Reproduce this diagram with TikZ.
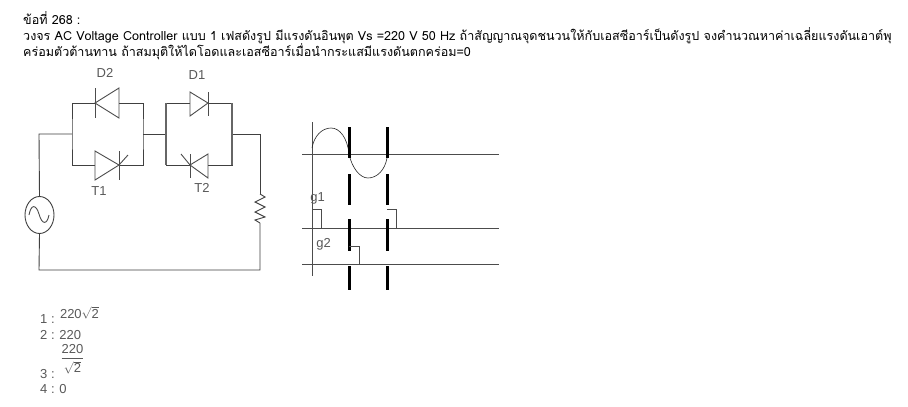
\documentclass[tikz,border=0pt]{standalone}
\usepackage{fontspec}
\usetikzlibrary{shapes.geometric}
\newfontfamily\thaifont[Script=Thai]{Loma}
\setmainfont{Liberation Sans}
\tikzset{
  wire/.style={draw=black!75,line width=0.9pt},
  heavywire/.style={draw=black!60,line width=1.3pt},
  part/.style={draw=black!70,line width=0.9pt},
  axisline/.style={draw=black!70,line width=0.9pt},
  wave/.style={draw=black!85,line width=0.6pt},
  gatebar/.style={draw=black,line width=3pt},
  qtext/.style={anchor=base west,inner sep=0pt,font=\thaifont\fontsize{12.55}{14}\selectfont,text=black},
  lbl/.style={anchor=center,inner sep=0pt,font=\fontsize{13}{14}\selectfont,text=black!65},
  opt/.style={anchor=base west,inner sep=0pt,font=\fontsize{13}{14}\selectfont,text=black!65}
}
\begin{document}
\begin{tikzpicture}[x=1pt,y=-1pt]
\useasboundingbox (0,0) rectangle (908,407);
\fill[white] (0,0) rectangle (908,407);
% question
\node[qtext] (q1) at (23,24) {ข้อที่ 268 :};
\node[qtext] (q2) at (23,40) {วงจร AC Voltage Controller แบบ 1 เฟสดังรูป มีแรงดันอินพุต Vs =220 V 50 Hz ถ้าสัญญาณจุดชนวนให้กับเอสซีอาร์เป็นดังรูป จงคำนวณหาค่าเฉลี่ยแรงดันเอาต์พุ};
\node[qtext] (q3) at (23,56) {คร่อมตัวต้านทาน ถ้าสมมุติให้ไดโอดและเอสซีอาร์เมื่อนำกระแสมีแรงดันตกคร่อม=0};
% circuit junctions
\coordinate (la) at (72,134); \coordinate (lb) at (143,134);
\coordinate (ra) at (166,134); \coordinate (rb) at (232,134);
\coordinate (tl) at (39,134); \coordinate (tr) at (260,134);
\coordinate (bl) at (39,270); \coordinate (br) at (260,270);
\coordinate (d2a) at (95,103); \coordinate (d2b) at (119,103);
\coordinate (t1a) at (95,165); \coordinate (t1b) at (119,165);
\coordinate (d1a) at (190,103); \coordinate (d1b) at (208,103);
\coordinate (t2a) at (190,165); \coordinate (t2b) at (208,165);
\coordinate (rt) at (260,194); \coordinate (rbt) at (260,223);
\node[draw=black!75,line width=0.9pt,ellipse,minimum width=29pt,minimum height=37pt,inner sep=0pt] (src) at (39.5,215) {};
% wires
\draw[wire] (src.north) -- (tl) -- (la);
\draw[wire] (src.south) -- (bl) -- (br) -- (rbt);
\draw[wire] (rt) -- (tr) -- (rb);
\draw[wire] (lb) -- (ra);
\draw[wire] (d2a) -| (la) |- (t1a);
\draw[wire] (d2b) -| (lb) |- (t1b);
\draw[wire] (d1a) -| (ra) |- (t2a);
\draw[wire] (d1b) -| (rb) |- (t2b);
\draw[heavywire] (ra |- d1a) -- (ra |- t2a);
\draw[heavywire] (rb |- d1b) -- (rb |- t2b);
% D2
\draw[part] (95,88) -- (95,118);
\draw[part] (d2a) -- (119,88) -- (119,118) -- cycle;
% T1
\draw[part] (95,151) -- (95,180) -- (t1b) -- cycle;
\draw[part] (119,151) -- (119,180);
\draw[part] (t1b) -- (128,155);
% D1
\draw[part] (190,92) -- (190,116) -- (d1b) -- cycle;
\draw[part] (208,92) -- (208,116);
% T2
\draw[part] (208,154) -- (208,178) -- (t2a) -- cycle;
\draw[part] (190,154) -- (190,178);
\draw[part] (t2a) -- (181,154);
% resistor
\draw[wire] (rt) -- (265,197) -- (255,202) -- (265,207) -- (255,212) -- (265,217) -- (255,220) -- (rbt);
% source sine
\draw[part] (29,215) .. controls (31,204) and (36,204) .. (39,214) .. controls (42,225) and (47,225) .. (49,215);
% labels
\node[lbl] (ld2) at (105,73) {D2};
\node[lbl] (ld1) at (197,75) {D1};
\node[lbl] (lt1) at (99,191) {T1};
\node[lbl] (lt2) at (202,188) {T2};
% waveform
\draw[axisline] (312,122) -- (312,276);
\draw[axisline] (302,154) -- (499,154);
\draw[axisline] (302,228) -- (499,228);
\draw[axisline] (302,264) -- (499,264);
\draw[wave] (312,148) .. controls (314,136) and (322,128) .. (331,128) .. controls (340,128) and (347,138) .. (349,153);
\draw[wave] (349,154) .. controls (352,168) and (360,178) .. (368,178) .. controls (377,178) and (385,170) .. (387,158);
\foreach \x in {349,387}{
  \draw[gatebar] (\x,127) -- (\x,158);
  \draw[gatebar] (\x,174) -- (\x,205);
  \draw[gatebar] (\x,219) -- (\x,251);
  \draw[gatebar] (\x,266) -- (\x,290);
}
\draw[axisline] (312,209) -- (321,209) -- (321,228);
\draw[axisline] (387,209) -- (396,209) -- (396,228);
\draw[axisline] (349,246) -- (359,246) -- (359,264);
\node[lbl] (g1) at (317.5,198) {g1};
\node[lbl] (g2) at (323.5,244) {g2};
% options
\node[opt] (o1) at (40,323) {1 :};
\node[opt,anchor=center] (o1v) at (79.5,313) {220$\sqrt{\hbox{2}}$};
\node[opt] (o2) at (40,339) {2 : 220};
\node[opt,anchor=center] (o3f) at (72.5,359) {$\displaystyle{\hbox{220}\above0.8pt\sqrt{\hbox{2}}}$};
\node[opt] (o3) at (40,378) {3 :};
\node[opt] (o4) at (40,393) {4 : 0};
\end{tikzpicture}
\end{document}
